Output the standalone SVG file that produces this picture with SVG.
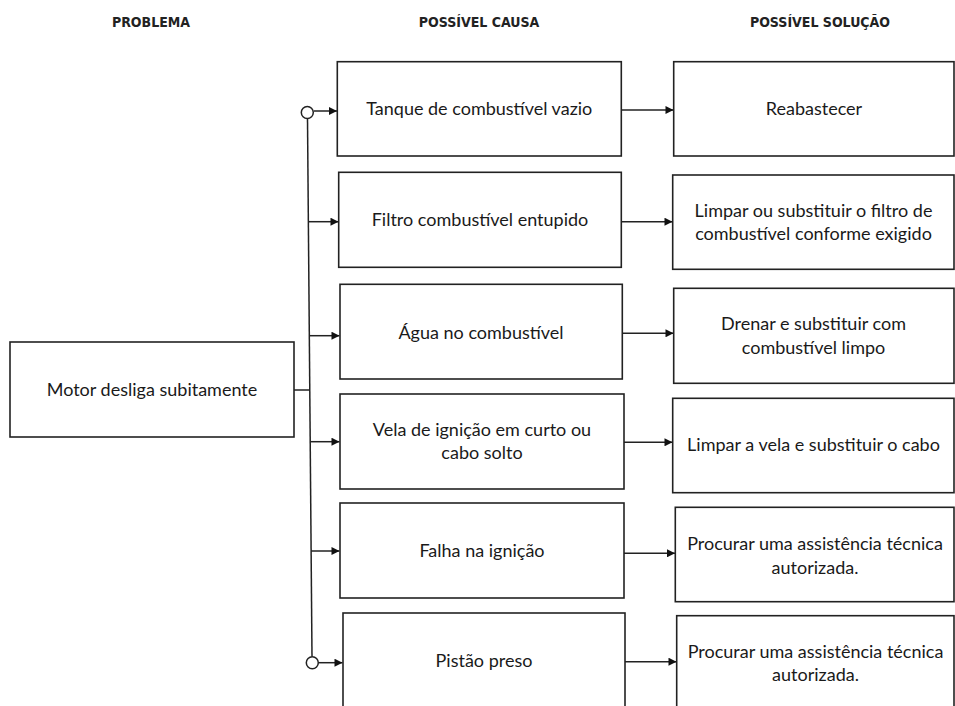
<svg xmlns="http://www.w3.org/2000/svg" width="955" height="706" viewBox="0 0 955 706">
<defs>
<style>
.box{fill:#fff;stroke:#222;stroke-width:1.6}
.t{font-family:Lato,"Open Sans","Liberation Sans",sans-serif;font-size:18px;fill:#1a1a1a;text-anchor:middle}
.h{font-family:"DejaVu Sans Condensed","Liberation Sans Narrow","DejaVu Sans",sans-serif;font-weight:bold;font-size:14px;fill:#222;text-anchor:middle}
.c{fill:none;stroke:#222;stroke-width:1.5}
.dot{fill:#fff;stroke:#222;stroke-width:1.5}
</style>
<marker id="ah" viewBox="0 0 10 10" refX="10" refY="5" markerWidth="9" markerHeight="8" markerUnits="userSpaceOnUse" orient="auto">
<path d="M0,0 L10,5 L0,10 z" fill="#111"/>
</marker>
</defs>
<rect width="955" height="706" fill="#fff"/>
<g id="headers">
<text class="h" x="151" y="27">PROBLEMA</text>
<text class="h" x="479" y="27">POSSÍVEL CAUSA</text>
<text class="h" x="820" y="27">POSSÍVEL SOLUÇÃO</text>
</g>
<g id="connectors">
<line class="c" x1="307.5" y1="118.5" x2="312" y2="656.5"/>
<line class="c" x1="294" y1="390" x2="309.8" y2="390"/>
<line class="c" x1="314" y1="111" x2="337" y2="111" marker-end="url(#ah)"/>
<line class="c" x1="308.4" y1="221.7" x2="338.5" y2="221.7" marker-end="url(#ah)"/>
<line class="c" x1="309.3" y1="335.7" x2="339.5" y2="335.7" marker-end="url(#ah)"/>
<line class="c" x1="310.2" y1="441.7" x2="339.5" y2="441.7" marker-end="url(#ah)"/>
<line class="c" x1="311.1" y1="551" x2="339.5" y2="551" marker-end="url(#ah)"/>
<line class="c" x1="318.5" y1="662.7" x2="342.5" y2="662.7" marker-end="url(#ah)"/>
<circle class="dot" cx="307.3" cy="112.5" r="6"/>
<circle class="dot" cx="312.3" cy="662.7" r="6"/>
<line class="c" x1="621.3" y1="110" x2="673.5" y2="110" marker-end="url(#ah)"/>
<line class="c" x1="621.3" y1="221.7" x2="672.5" y2="221.7" marker-end="url(#ah)"/>
<line class="c" x1="622.3" y1="333.3" x2="673.5" y2="333.3" marker-end="url(#ah)"/>
<line class="c" x1="624" y1="442.3" x2="672.5" y2="442.3" marker-end="url(#ah)"/>
<line class="c" x1="624" y1="553.3" x2="675" y2="553.3" marker-end="url(#ah)"/>
<line class="c" x1="625" y1="661.7" x2="676.5" y2="661.7" marker-end="url(#ah)"/>
</g>
<g id="problem">
<rect class="box" x="10" y="342" width="284" height="95"/>
<text class="t" x="152" y="396">Motor desliga subitamente</text>
</g>
<g id="cause1">
<rect class="box" x="337.3" y="61.7" width="284" height="94.3"/>
<text class="t" x="479.3" y="115">Tanque de combustível vazio</text>
</g>
<g id="cause2">
<rect class="box" x="338.7" y="172.3" width="282.6" height="95"/>
<text class="t" x="480" y="226">Filtro combustível entupido</text>
</g>
<g id="cause3">
<rect class="box" x="340" y="284.3" width="282.3" height="94.7"/>
<text class="t" x="481" y="338.5">Água no combustível</text>
</g>
<g id="cause4">
<rect class="box" x="340" y="394" width="284" height="95"/>
<text class="t" x="482" y="436">Vela de ignição em curto ou</text>
<text class="t" x="482" y="458.5">cabo solto</text>
</g>
<g id="cause5">
<rect class="box" x="340" y="503" width="284" height="95"/>
<text class="t" x="482" y="557">Falha na ignição</text>
</g>
<g id="cause6">
<rect class="box" x="343" y="613" width="282" height="110"/>
<text class="t" x="484" y="667">Pistão preso</text>
</g>
<g id="solution1">
<rect class="box" x="673.7" y="61.7" width="280.3" height="94.3"/>
<text class="t" x="814" y="115">Reabastecer</text>
</g>
<g id="solution2">
<rect class="box" x="672.7" y="175" width="281.3" height="94.3"/>
<text class="t" x="813.5" y="217">Limpar ou substituir o filtro de</text>
<text class="t" x="813.5" y="240">combustível conforme exigido</text>
</g>
<g id="solution3">
<rect class="box" x="673.7" y="288.3" width="280.3" height="95"/>
<text class="t" x="813.5" y="330">Drenar e substituir com</text>
<text class="t" x="813.5" y="353.5">combustível limpo</text>
</g>
<g id="solution4">
<rect class="box" x="672.7" y="398.3" width="281.3" height="94.4"/>
<text class="t" x="813.5" y="451">Limpar a vela e substituir o cabo</text>
</g>
<g id="solution5">
<rect class="box" x="675.3" y="507.3" width="278.7" height="94.4"/>
<text class="t" x="815" y="550">Procurar uma assistência técnica</text>
<text class="t" x="815" y="573.5">autorizada.</text>
</g>
<g id="solution6">
<rect class="box" x="676.7" y="615.7" width="277.3" height="110"/>
<text class="t" x="815.5" y="657.5">Procurar uma assistência técnica</text>
<text class="t" x="815.5" y="681">autorizada.</text>
</g>
</svg>
